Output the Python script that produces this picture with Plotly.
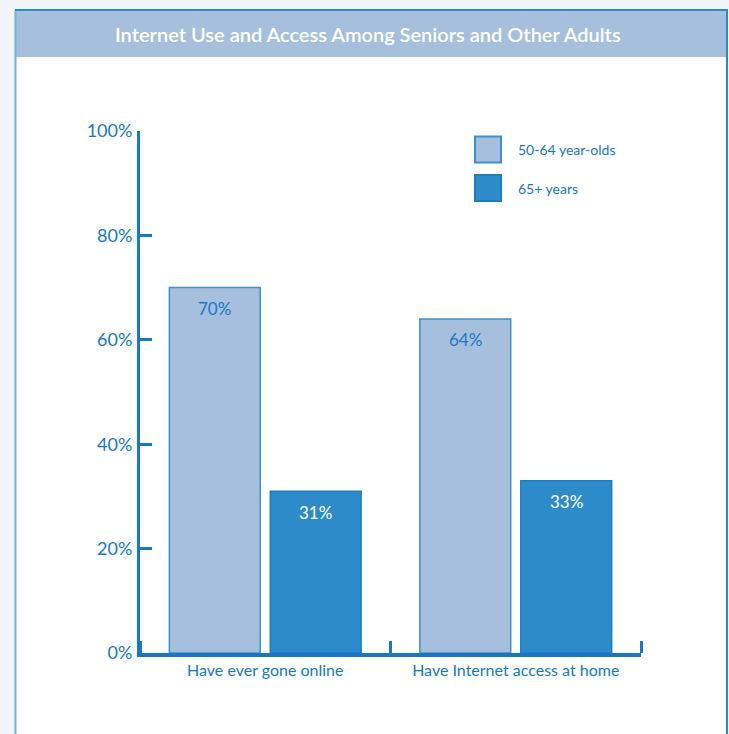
import plotly.graph_objects as go

# ---- data ----
categories = ["Have ever gone online", "Have Internet access at home"]
series_names = ["50-64 year-olds", "65+ years"]
values_50_64 = [70, 64]
values_65_plus = [31, 33]
y_tick_vals = [0, 20, 40, 60, 80, 100]
y_tick_text = ["0%", "20%", "40%", "60%", "80%", "100%"]
title_text = "Internet Use and Access Among Seniors and Other Adults"

# ---- style ----
FONT = "Lato, Roboto, sans-serif"
AXIS_BLUE = "#1a78c2"
LIGHT = "#a6bfdd"
DARK = "#2e8bc9"
PAGE_BG = "#f1f4f9"
W, H = 729, 734
ML, MR, MT, MB = 140, 88, 131, 81
PW, PH = W - ML - MR, H - MT - MB


def px_x(px):
    return (px - ML) / PW


def px_y(py):
    return (H - MB - py) / PH


series = [values_50_64, values_65_plus]
fills = [LIGHT, DARK]
borders = ["#3d8fcf", "#1f7cc1"]
text_colors = [AXIS_BLUE, "white"]

fig = go.Figure()
for name, vals, fc, bc in zip(series_names, series, fills, borders):
    fig.add_trace(go.Bar(
        x=categories, y=vals, name=name,
        marker=dict(color=fc, line=dict(color=bc, width=1.5)),
        showlegend=False, hoverinfo="skip",
    ))
# empty trace so the boundary-tick overlay axis is drawn
fig.add_trace(go.Scatter(x=[], y=[], xaxis="x2", yaxis="y",
                         showlegend=False, hoverinfo="skip"))

# value labels inside bar tops
offsets_px = [-50.5, 50.5]
annotations = []
for vals, tc, off in zip(series, text_colors, offsets_px):
    for cat, v in zip(categories, vals):
        annotations.append(dict(
            x=cat, y=v, xref="x", yref="y", text=f"{v}%",
            showarrow=False, xshift=off, yshift=-21,
            font=dict(family=FONT, size=17, color=tc),
        ))

# title
annotations.append(dict(
    x=px_x(368), y=px_y(34), xref="paper", yref="paper", text=title_text,
    showarrow=False, xanchor="center", yanchor="middle",
    font=dict(family=FONT, size=20, color="white", weight=600),
))

# legend (custom swatches)
legend_rows = [149.5, 188]
shapes = [
    dict(type="rect", xref="paper", yref="paper", layer="below",
         x0=px_x(15), x1=px_x(727), y0=px_y(10), y1=px_y(H + 5),
         fillcolor="white", line=dict(width=0)),
    dict(type="rect", xref="paper", yref="paper", layer="below",
         x0=px_x(15), x1=px_x(727), y0=px_y(10), y1=px_y(57),
         fillcolor="#a5bfdd", line=dict(width=0)),
    dict(type="line", xref="paper", yref="paper", layer="below",
         x0=px_x(15.5), x1=px_x(15.5), y0=px_y(10), y1=px_y(H + 5),
         line=dict(color="#78b0dc", width=2)),
    dict(type="line", xref="paper", yref="paper", layer="below",
         x0=px_x(727), x1=px_x(727), y0=px_y(10), y1=px_y(H + 5),
         line=dict(color="#2a8acb", width=2)),
    dict(type="line", xref="paper", yref="paper", layer="below",
         x0=px_x(15), x1=px_x(728), y0=px_y(10), y1=px_y(10),
         line=dict(color="#2a8acb", width=2)),
]
for name, fc, bc, cy in zip(series_names, fills, borders, legend_rows):
    shapes.append(dict(
        type="rect", xref="paper", yref="paper",
        x0=px_x(475), x1=px_x(501), y0=px_y(cy - 13), y1=px_y(cy + 13),
        fillcolor=fc, line=dict(color=bc, width=2),
    ))
    annotations.append(dict(
        x=px_x(516), y=px_y(cy), xref="paper", yref="paper", text=name,
        showarrow=False, xanchor="left", yanchor="middle",
        font=dict(family=FONT, size=14, color=AXIS_BLUE),
    ))

X_RANGE = [-0.5, 1.5]
fig.update_layout(
    width=W, height=H,
    margin=dict(l=ML, r=MR, t=MT, b=MB, pad=0, autoexpand=False),
    paper_bgcolor=PAGE_BG, plot_bgcolor="white",
    barmode="group", bargap=0.194, bargroupgap=0.1,
    shapes=shapes, annotations=annotations,
    font=dict(family=FONT, color=AXIS_BLUE),
    xaxis=dict(
        range=X_RANGE, showgrid=False, zeroline=False, automargin=False,
        showline=True, linecolor=AXIS_BLUE, linewidth=3.5,
        ticks="", tickangle=0,
        tickfont=dict(family=FONT, size=16, color=AXIS_BLUE),
        ticklabelstandoff=0,
    ),
    # overlay axis at the bottom edge whose upward ticks mark category boundaries
    xaxis2=dict(
        overlaying="x", anchor="free", position=0, side="top", range=X_RANGE,
        tickmode="array",
        tickvals=[-0.5 + i for i in range(len(categories) + 1)],
        showticklabels=False, ticks="outside", ticklen=12, tickwidth=3,
        tickcolor=AXIS_BLUE, showgrid=False, zeroline=False, showline=False,
        automargin=False, fixedrange=True,
    ),
)
fig.update_yaxes(
    range=[0, 100], showgrid=False, zeroline=False, automargin=False,
    showline=True, linecolor=AXIS_BLUE, linewidth=3,
    tickvals=y_tick_vals, ticktext=y_tick_text,
    ticks="inside", ticklen=12, tickwidth=3, tickcolor=AXIS_BLUE,
    tickfont=dict(family=FONT, size=18, color=AXIS_BLUE),
    ticklabelstandoff=1,
)

fig.write_html(
    "out.html",
    config={"displayModeBar": False},
    post_script="document.body.style.margin='0';"
                "document.body.style.background='" + PAGE_BG + "';",
)
